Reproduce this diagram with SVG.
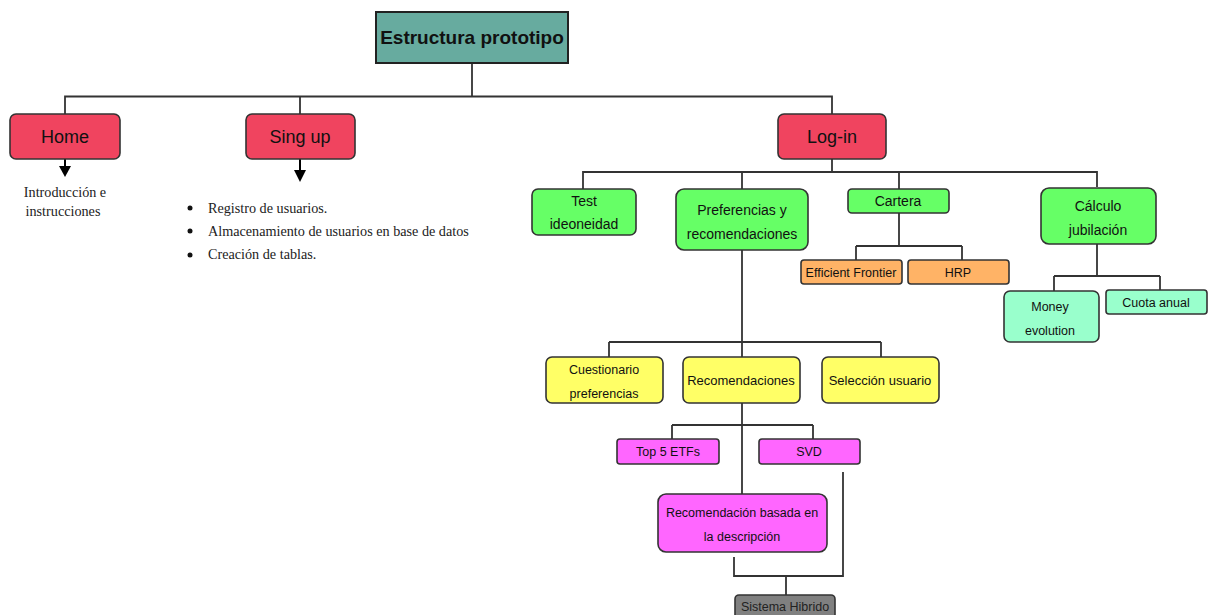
<svg xmlns="http://www.w3.org/2000/svg" width="1209" height="615" viewBox="0 0 1209 615">
<defs>
<style>
.b{stroke:#333;stroke-width:1.6}
.red{fill:#F0445F}
.grn{fill:#66FF66}
.org{fill:#FFB366}
.yel{fill:#FFFF66}
.mag{fill:#FF66FF}
.mnt{fill:#99FFCC}
.gry{fill:#808080}
.t{font-family:"Liberation Sans",Arial,sans-serif;fill:#111;text-anchor:middle}
.s{font-family:"Liberation Serif","Times New Roman",serif;fill:#222;font-size:14.2px}
.c{fill:none;stroke:#333;stroke-width:1.8}
</style>
</defs>

<g id="connectors">
<path class="c" d="M472,63 V96.5 M65,114 V96.5 H832 V114 M300,96.5 V114"/>
<path class="c" d="M832,159 V172 M583,189 V172 H1097 V187 M742,172 V189 M899,172 V189"/>
<path class="c" d="M899,213 V246 M856,246 H962 M856,246 V260 M962,246 V260"/>
<path class="c" d="M1097,244 V276 M1054,276 H1160 M1054,276 V291 M1160,276 V290"/>
<path class="c" d="M742,250 V494 M609,342 H881 M609,342 V357 M881,342 V357"/>
<path class="c" d="M672,425 H813 M672,425 V439 M813,425 V439"/>
<path class="c" d="M734,557 V576 H843 V472 M786,576 V595"/>
<line x1="65" y1="159" x2="65" y2="167" stroke="#000" stroke-width="2"/>
<path d="M59,166 L71,166 L65,177 Z" fill="#000"/>
<line x1="300" y1="159" x2="300" y2="171" stroke="#000" stroke-width="2"/>
<path d="M294,170 L306,170 L300,182 Z" fill="#000"/>
</g>

<g id="root">
<rect x="376" y="12" width="192" height="51" fill="#67AB9F" stroke="#222" stroke-width="2"/>
<text class="t" x="472" y="44" font-size="19" font-weight="bold">Estructura prototipo</text>
</g>

<g id="home">
<rect class="b red" x="10" y="114" width="110" height="45" rx="6"/>
<text class="t" x="65" y="143" font-size="18">Home</text>
</g>
<g id="home-text">
<text class="s" x="65" y="197" text-anchor="middle">Introducción e</text>
<text class="s" x="63" y="216" text-anchor="middle">instrucciones</text>
</g>

<g id="singup">
<rect class="b red" x="246" y="114" width="109" height="45" rx="6"/>
<text class="t" x="300" y="143" font-size="18">Sing up</text>
</g>
<g id="singup-text">
<circle cx="190" cy="208" r="2.5" fill="#111"/>
<circle cx="190" cy="231" r="2.5" fill="#111"/>
<circle cx="190" cy="255" r="2.5" fill="#111"/>
<text class="s" x="208" y="213">Registro de usuarios.</text>
<text class="s" x="208" y="236">Almacenamiento de usuarios en base de datos</text>
<text class="s" x="208" y="259">Creación de tablas.</text>
</g>

<g id="login">
<rect class="b red" x="778" y="114" width="108" height="45" rx="6"/>
<text class="t" x="832" y="143" font-size="18">Log-in</text>
</g>

<g id="test">
<rect class="b grn" x="532" y="189" width="104" height="46" rx="6"/>
<text class="t" x="584" y="206" font-size="14">Test</text>
<text class="t" x="584" y="229" font-size="14">ideoneidad</text>
</g>

<g id="preferencias">
<rect class="b grn" x="676" y="189" width="132" height="61" rx="8"/>
<text class="t" x="742" y="215" font-size="14">Preferencias y</text>
<text class="t" x="742" y="239" font-size="14">recomendaciones</text>
</g>

<g id="cartera">
<rect class="b grn" x="848" y="189" width="101" height="24" rx="4"/>
<text class="t" x="898" y="206" font-size="14">Cartera</text>
</g>

<g id="calculo">
<rect class="b grn" x="1041" y="188" width="115" height="56" rx="8"/>
<text class="t" x="1098" y="211" font-size="14">Cálculo</text>
<text class="t" x="1098" y="235" font-size="14">jubilación</text>
</g>

<g id="efficient">
<rect class="b org" x="801" y="260" width="101" height="24" rx="3"/>
<text class="t" x="851" y="277" font-size="12.5">Efficient Frontier</text>
</g>
<g id="hrp">
<rect class="b org" x="908" y="260" width="101" height="24" rx="3"/>
<text class="t" x="958" y="277" font-size="12.5">HRP</text>
</g>

<g id="money">
<rect class="b mnt" x="1004" y="291" width="95" height="51" rx="6"/>
<text class="t" x="1050" y="311" font-size="12.5">Money</text>
<text class="t" x="1050" y="335" font-size="12.5">evolution</text>
</g>
<g id="cuota">
<rect class="b mnt" x="1106" y="290" width="101" height="24" rx="3"/>
<text class="t" x="1156" y="307" font-size="12.5">Cuota anual</text>
</g>

<g id="cuestionario">
<rect class="b yel" x="546" y="357" width="117" height="46" rx="6"/>
<text class="t" x="604" y="374" font-size="12.5">Cuestionario</text>
<text class="t" x="604" y="398" font-size="12.5">preferencias</text>
</g>
<g id="recomendaciones">
<rect class="b yel" x="683" y="357" width="117" height="46" rx="6"/>
<text class="t" x="741" y="385" font-size="13">Recomendaciones</text>
</g>
<g id="seleccion">
<rect class="b yel" x="822" y="357" width="117" height="46" rx="6"/>
<text class="t" x="880" y="385" font-size="13">Selección usuario</text>
</g>

<g id="top5">
<rect class="b mag" x="617" y="439" width="102" height="25" rx="3"/>
<text class="t" x="668" y="456" font-size="12.5">Top 5 ETFs</text>
</g>
<g id="svd">
<rect class="b mag" x="759" y="439" width="101" height="25" rx="3"/>
<text class="t" x="809" y="456" font-size="12.5">SVD</text>
</g>

<g id="basada">
<rect class="b mag" x="658" y="494" width="169" height="58" rx="8"/>
<text class="t" x="742" y="517" font-size="12.5">Recomendación basada en</text>
<text class="t" x="742" y="541" font-size="12.5">la descripción</text>
</g>

<g id="hibrido">
<rect class="b gry" x="735" y="595" width="100" height="30" rx="4"/>
<text class="t" x="785" y="611" font-size="12.5" style="fill:#222">Sistema Hibrido</text>
</g>
</svg>
